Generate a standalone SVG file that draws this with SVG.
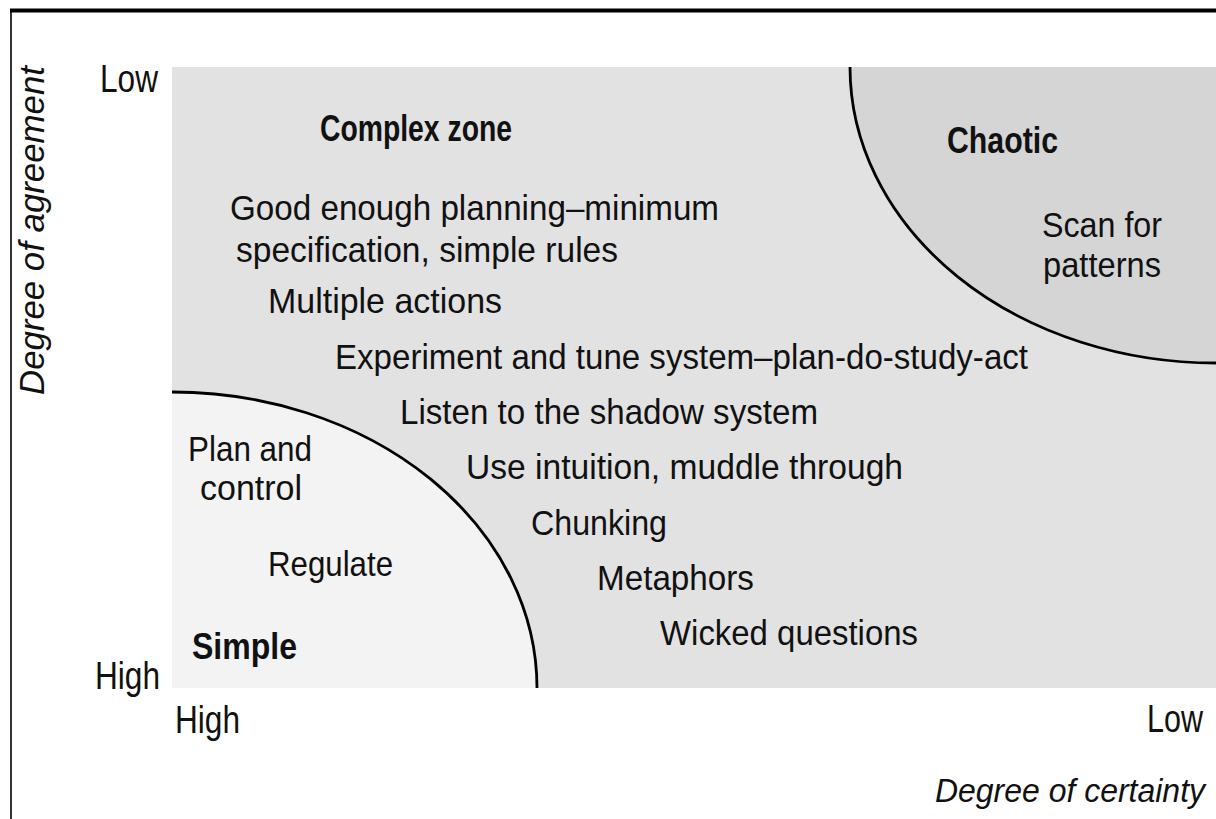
<svg xmlns="http://www.w3.org/2000/svg" width="1216" height="819" viewBox="0 0 1216 819">
<style>
text{font-family:"Liberation Sans",Arial,sans-serif;fill:#111;}
.t{font-size:35px;}
.ax{font-size:38px;}
.b{font-size:36px;font-weight:bold;}
.it{font-size:35px;font-style:italic;}
.arc{fill:none;stroke:#000;stroke-width:2.8;}
</style>
<rect x="0" y="0" width="1216" height="819" fill="#fff"/>
<g id="frame">
<line x1="10" y1="10.5" x2="1216" y2="10.5" stroke="#000" stroke-width="4"/>
<line x1="11" y1="10" x2="11" y2="819" stroke="#000" stroke-width="1.6"/>
</g>
<g id="complex-zone">
<rect x="172" y="67" width="1044" height="621" fill="#e2e2e2"/>
<text class="b" x="320" y="141" textLength="192" lengthAdjust="spacingAndGlyphs">Complex zone</text>
<text class="t" x="230" y="220" textLength="489" lengthAdjust="spacingAndGlyphs">Good enough planning–minimum</text>
<text class="t" x="236" y="262" textLength="382" lengthAdjust="spacingAndGlyphs">specification, simple rules</text>
<text class="t" x="268" y="313" textLength="234" lengthAdjust="spacingAndGlyphs">Multiple actions</text>
<text class="t" x="335" y="369" textLength="693" lengthAdjust="spacingAndGlyphs">Experiment and tune system–plan-do-study-act</text>
<text class="t" x="400" y="424" textLength="418" lengthAdjust="spacingAndGlyphs">Listen to the shadow system</text>
<text class="t" x="466" y="479" textLength="437" lengthAdjust="spacingAndGlyphs">Use intuition, muddle through</text>
<text class="t" x="531" y="535" textLength="136" lengthAdjust="spacingAndGlyphs">Chunking</text>
<text class="t" x="597" y="590" textLength="157" lengthAdjust="spacingAndGlyphs">Metaphors</text>
<text class="t" x="660" y="645" textLength="258" lengthAdjust="spacingAndGlyphs">Wicked questions</text>
</g>
<g id="simple">
<path d="M172,392 A365,296 0 0 1 537,688 L172,688 Z" fill="#f3f3f3"/>
<path class="arc" d="M172,392 A365,296 0 0 1 537,688"/>
<text class="t" x="188" y="461" textLength="124" lengthAdjust="spacingAndGlyphs">Plan and</text>
<text class="t" x="200" y="500" textLength="102" lengthAdjust="spacingAndGlyphs">control</text>
<text class="t" x="268" y="576" textLength="125" lengthAdjust="spacingAndGlyphs">Regulate</text>
<text class="b" x="192" y="659" textLength="105" lengthAdjust="spacingAndGlyphs">Simple</text>
</g>
<g id="chaotic">
<path d="M850,67 A366,296 0 0 0 1216,363 L1216,67 Z" fill="#d5d5d5"/>
<path class="arc" d="M850,67 A366,296 0 0 0 1216,363"/>
<text class="b" x="947" y="153" textLength="111" lengthAdjust="spacingAndGlyphs">Chaotic</text>
<text class="t" x="1042" y="237" textLength="120" lengthAdjust="spacingAndGlyphs">Scan for</text>
<text class="t" x="1043" y="277" textLength="118" lengthAdjust="spacingAndGlyphs">patterns</text>
</g>
<g id="y-axis">
<text class="ax" x="100" y="92" textLength="58" lengthAdjust="spacingAndGlyphs">Low</text>
<text class="ax" x="95" y="689" textLength="65" lengthAdjust="spacingAndGlyphs">High</text>
<text class="it" transform="translate(44,395) rotate(-90)" x="0" y="0" textLength="329" lengthAdjust="spacingAndGlyphs">Degree of agreement</text>
</g>
<g id="x-axis">
<text class="ax" x="175" y="733" textLength="65" lengthAdjust="spacingAndGlyphs">High</text>
<text class="ax" x="1147" y="732" textLength="56" lengthAdjust="spacingAndGlyphs">Low</text>
<text x="935" y="802" style="font-size:33px;font-style:italic" textLength="270" lengthAdjust="spacingAndGlyphs">Degree of certainty</text>
</g>
<g id="connectors"></g>
</svg>
